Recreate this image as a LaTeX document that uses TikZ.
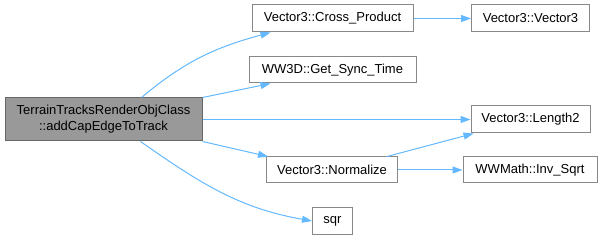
\documentclass[tikz,border=0pt]{standalone}
\usepackage{fontspec}
\setmainfont{Liberation Sans}
\usetikzlibrary{arrows.meta}
\definecolor{edgeblue}{HTML}{63B8FF}
\definecolor{rootgrey}{HTML}{999999}
\definecolor{rootborder}{HTML}{666666}
\definecolor{fnborder}{HTML}{888888}

\begin{document}
\begin{tikzpicture}[x=1pt,y=-1pt,fn/.style={draw=fnborder,fill=white,line width=1pt,inner sep=0pt,minimum height=27pt,font=\fontsize{13}{16}\selectfont},root/.style={fn,draw=rootborder,fill=rootgrey,align=center},call/.style={edgeblue,line width=1pt,-{Triangle[length=10pt,width=7pt]}}]
\useasboundingbox (0,0) rectangle (603,240);
\node[root,minimum width=197pt,minimum height=43pt] (main) at (103.5,119.5) {TerrainTracksRenderObjClass\\::addCapEdgeToTrack};
\node[fn,minimum width=161pt] (cross) at (332.5,18.5) {Vector3::Cross\_Product};
\node[fn,minimum width=167pt,minimum height=26pt] (sync) at (332.5,70) {WW3D::Get\_Sync\_Time};
\node[fn,minimum width=131pt,minimum height=26pt] (norm) at (332,170) {Vector3::Normalize};
\node[fn,minimum width=40pt] (sqr) at (332.5,221) {sqr};
\node[fn,minimum width=118pt] (vec3) at (530.5,18.5) {Vector3::Vector3};
\node[fn,minimum width=119pt] (len2) at (530.5,119.5) {Vector3::Length2};
\node[fn,minimum width=134pt,minimum height=26pt] (invsqrt) at (530,170) {WWMath::Inv\_Sqrt};
\draw[call] ([xshift=38pt]main.north) to[out=40,in=195] ([xshift=-62pt]cross.south);
\draw[call] (main.north east) -- ([xshift=-62pt]sync.south);
\draw[call] (main.south east) -- ([xshift=-64pt]norm.north);
\draw[call] ([xshift=37pt]main.south) to[out=-35,in=170] (sqr.west);
\draw[call] ([xshift=55pt]norm.north) -- ([xshift=-57pt]len2.south);
\foreach \a/\b in %
{main.east/len2.west,cross.east/vec3.west,norm.east/invsqrt.west} {
   \draw[call] (\a) -- (\b);
}
\end{tikzpicture}
\end{document}
